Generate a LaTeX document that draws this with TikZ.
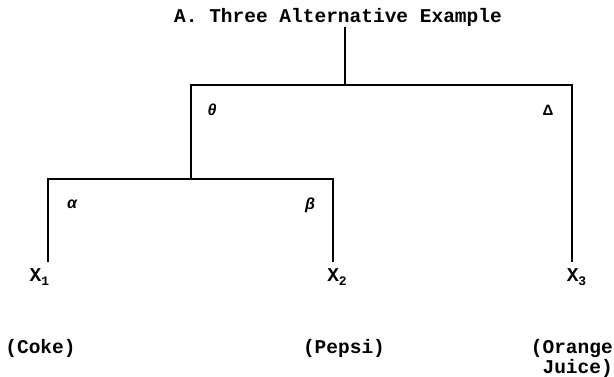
\documentclass[tikz,border=0pt]{standalone}
\usepackage{fontspec}
\setmonofont{Liberation Mono}
\newfontfamily\greekfont{Liberation Sans}
\usetikzlibrary{positioning}
\tikzset{
  txt/.style={font=\ttfamily\bfseries\fontsize{19.5}{20}\selectfont,inner sep=0pt},
  leaf/.style={txt,anchor=base,inner sep=6pt},
  choice/.style={txt,anchor=base,align=right},
  parm/.style={font=\greekfont\bfseries\itshape\fontsize{16}{16}\selectfont,inner sep=0pt},
  branch/.style={line width=1.5pt},
}
\newcommand{\lowidx}[1]{\raisebox{-0.4ex}{\fontsize{13}{13}\selectfont #1}}

\begin{document}
\begin{tikzpicture}[x=1pt,y=-1pt]
  \useasboundingbox (0,0) rectangle (614,377);
  % heading and branch points
  \node[txt,anchor=base] (title) at (338,23) {A. Three Alternative Example};
  \coordinate (top) at (345,85);
  \coordinate (mid) at (191,179);
  % alternatives
  \node[leaf] (x1) at (39.5,281) {X\lowidx{1}};
  \node[leaf] (x2) at (337,281) {X\lowidx{2}};
  \node[leaf] (x3) at (576.5,281) {X\lowidx{3}};
  \node[choice] (coke) at (40.5,353) {(Coke)};
  \node[choice] (pepsi) at (344,353) {(Pepsi)};
  \node[choice,anchor=north east] (oj) at (613,339) {(Orange\\Juice)};
  % parameters
  \node[parm] (theta) at (212,110) {θ};
  \node[parm,font=\greekfont\bfseries\fontsize{15}{15}\selectfont] (delta) at (548,110) {Δ};
  \node[parm] (alpha) at (72,204) {α};
  \node[parm] (beta) at (310,205) {β};
  % tree
  \draw[branch] (title.south -| top) -- (top);
  \draw[branch] ([xshift=8.5pt]x1.north) |- (mid) -| ([xshift=-4pt]x2.north);
  \draw[branch] (mid) |- (top) -| ([xshift=-4.5pt]x3.north);
\end{tikzpicture}
\end{document}
